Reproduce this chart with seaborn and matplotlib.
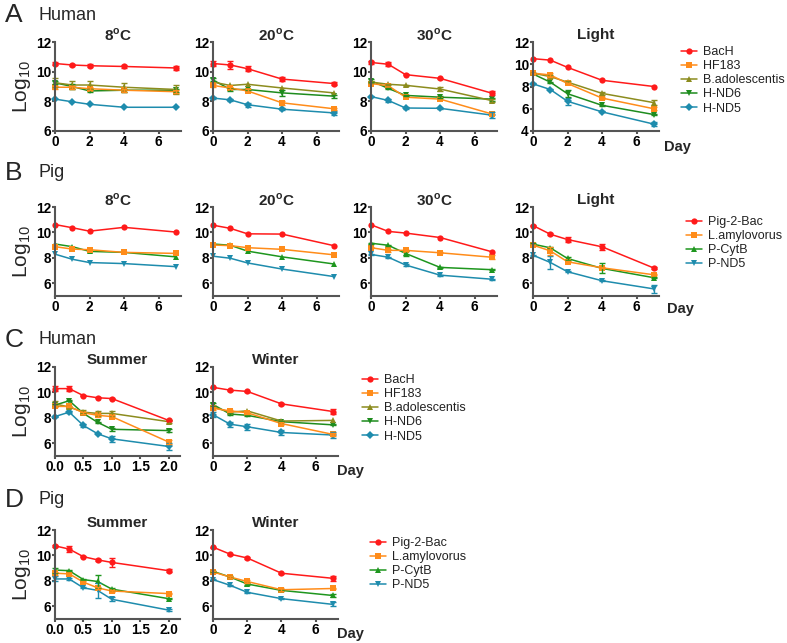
import numpy as np
import pandas as pd
import matplotlib
matplotlib.use('Agg')
import matplotlib.pyplot as plt
from matplotlib.lines import Line2D
import seaborn as sns

# ---- data (log10 copies) ----
DAYS = [0, 1, 2, 4, 7]
SEASON_DAYS = [0, 0.25, 0.5, 0.75, 1.0, 2.0]
HUMAN = ['BacH', 'HF183', 'B.adolescentis', 'H-ND6', 'H-ND5']
PIG = ['Pig-2-Bac', 'L.amylovorus', 'P-CytB', 'P-ND5']

# A - human, storage conditions
a_8c = {'BacH': [10.55, 10.45, 10.4, 10.35, 10.25],
        'HF183': [8.95, 8.95, 8.85, 8.75, 8.65],
        'B.adolescentis': [9.25, 9.1, 9.1, 8.95, 8.8],
        'H-ND6': [9.25, 9.0, 8.7, 8.75, 8.75],
        'H-ND5': [8.15, 7.97, 7.8, 7.6, 7.6]}
a_8c_sd = {'BacH': [0.12, 0.05, 0.1, 0.1, 0.15],
           'HF183': [0.1, 0.1, 0.1, 0.1, 0.1],
           'B.adolescentis': [0.3, 0.25, 0.3, 0.3, 0.3],
           'H-ND6': [0.1, 0.15, 0.1, 0.1, 0.1]}

a_20c = {'BacH': [10.55, 10.45, 10.2, 9.5, 9.2],
         'HF183': [9.07, 8.9, 8.7, 7.9, 7.5],
         'B.adolescentis': [9.3, 9.07, 9.15, 8.9, 8.57],
         'H-ND6': [9.44, 8.8, 8.8, 8.57, 8.35],
         'H-ND5': [8.22, 8.1, 7.77, 7.47, 7.22]}
a_20c_sd = {'BacH': [0.15, 0.3, 0.15, 0.15, 0.08],
            'HF183': [0.1, 0.05, 0.1, 0.15, 0.08],
            'H-ND6': [0.1, 0.1, 0.05, 0.2, 0.1],
            'H-ND5': [0.05, 0.05, 0.15, 0.05, 0.15]}

a_30c = {'BacH': [10.62, 10.5, 9.8, 9.55, 8.55],
         'HF183': [9.2, 9.05, 8.28, 8.15, 7.15],
         'B.adolescentis': [9.3, 9.15, 9.08, 8.83, 8.05],
         'H-ND6': [9.38, 8.87, 8.4, 8.28, 8.15],
         'H-ND5': [8.32, 8.06, 7.55, 7.53, 7.07]}
a_30c_sd = {'BacH': [0.1, 0.15, 0.05, 0.05, 0.15],
            'B.adolescentis': [0.05, 0.05, 0.05, 0.12, 0.1],
            'H-ND6': [0.1, 0.05, 0.05, 0.05, 0.1],
            'H-ND5': [0.05, 0.1, 0.1, 0.05, 0.2]}

a_light = {'BacH': [10.5, 10.37, 9.72, 8.56, 8.0],
           'HF183': [9.2, 9.04, 8.27, 6.96, 6.0],
           'B.adolescentis': [9.2, 8.89, 8.39, 7.38, 6.55],
           'H-ND6': [9.13, 8.39, 7.35, 6.31, 5.48],
           'H-ND5': [8.24, 7.73, 6.67, 5.72, 4.62]}
a_light_sd = {'B.adolescentis': [0.05, 0.1, 0.08, 0.1, 0.2],
              'HF183': [0.05, 0.15, 0.05, 0.1, 0.15],
              'H-ND6': [0.05, 0.05, 0.3, 0.05, 0.05],
              'H-ND5': [0.05, 0.05, 0.3, 0.05, 0.15]}

# B - pig, storage conditions
b_8c = {'Pig-2-Bac': [10.62, 10.37, 10.1, 10.4, 10.03],
        'L.amylovorus': [8.88, 8.69, 8.64, 8.43, 8.35],
        'P-CytB': [9.09, 8.88, 8.51, 8.43, 8.08],
        'P-ND5': [8.29, 7.89, 7.63, 7.55, 7.31]}
b_8c_sd = {}

b_20c = {'Pig-2-Bac': [10.57, 10.32, 9.89, 9.87, 8.96],
         'L.amylovorus': [9.01, 8.96, 8.8, 8.67, 8.24],
         'P-CytB': [9.09, 8.99, 8.53, 8.08, 7.52],
         'P-ND5': [8.13, 7.97, 7.6, 7.12, 6.53]}
b_20c_sd = {}

b_30c = {'Pig-2-Bac': [10.6, 10.08, 9.95, 9.6, 8.48],
         'L.amylovorus': [8.8, 8.59, 8.59, 8.4, 8.05],
         'P-CytB': [9.15, 8.99, 8.35, 7.25, 7.07],
         'P-ND5': [8.27, 8.05, 7.44, 6.64, 6.32]}
b_30c_sd = {'L.amylovorus': [0.05, 0.1, 0.05, 0.05, 0.15],
            'P-CytB': [0.05, 0.05, 0.2, 0.05, 0.05],
            'P-ND5': [0.05, 0.05, 0.1, 0.05, 0.05]}

b_light = {'Pig-2-Bac': [10.54, 9.86, 9.44, 8.87, 7.2],
           'L.amylovorus': [9.0, 8.55, 7.69, 7.22, 6.67],
           'P-CytB': [9.08, 8.79, 7.95, 7.17, 6.44],
           'P-ND5': [8.21, 7.64, 6.91, 6.2, 5.56]}
b_light_sd = {'Pig-2-Bac': [0.05, 0.1, 0.2, 0.25, 0.05],
              'L.amylovorus': [0.05, 0.3, 0.05, 0.05, 0.05],
              'P-CytB': [0.05, 0.05, 0.1, 0.4, 0.05],
              'P-ND5': [0.05, 0.5, 0.05, 0.05, 0.3]}

# C - human, seasons
c_summer = {'BacH': [10.3, 10.3, 9.75, 9.58, 9.52, 7.8],
            'HF183': [8.9, 8.9, 8.4, 8.2, 8.1, 6.1],
            'B.adolescentis': [9.1, 8.85, 8.45, 8.35, 8.35, 7.7],
            'H-ND6': [9.0, 9.35, 8.35, 7.65, 7.1, 7.0],
            'H-ND5': [8.1, 8.45, 7.4, 6.75, 6.35, 5.75]}
c_summer_sd = {'BacH': [0.2, 0.2, 0.05, 0.05, 0.05, 0.05],
               'HF183': [0.05, 0.05, 0.1, 0.1, 0.1, 0.15],
               'B.adolescentis': [0.2, 0.05, 0.15, 0.2, 0.2, 0.1],
               'H-ND6': [0.1, 0.05, 0.05, 0.05, 0.1, 0.15],
               'H-ND5': [0.05, 0.1, 0.1, 0.05, 0.25, 0.25]}

c_winter = {'BacH': [10.4, 10.18, 10.08, 9.1, 8.5],
            'HF183': [8.75, 8.55, 8.4, 7.55, 6.7],
            'B.adolescentis': [8.85, 8.45, 8.55, 7.75, 7.8],
            'H-ND6': [9.05, 8.3, 8.2, 7.7, 7.45],
            'H-ND5': [8.25, 7.5, 7.3, 6.85, 6.65]}
c_winter_sd = {'BacH': [0.05, 0.05, 0.05, 0.1, 0.2],
               'HF183': [0.1, 0.1, 0.1, 0.1, 0.1],
               'H-ND6': [0.1, 0.05, 0.05, 0.05, 0.05],
               'H-ND5': [0.2, 0.2, 0.25, 0.2, 0.25]}

# D - pig, seasons
d_summer = {'Pig-2-Bac': [10.75, 10.5, 9.9, 9.65, 9.45, 8.8],
            'L.amylovorus': [8.6, 8.55, 7.9, 7.45, 7.2, 7.0],
            'P-CytB': [8.85, 8.8, 8.1, 7.95, 7.35, 6.6],
            'P-ND5': [8.15, 8.15, 7.45, 7.25, 6.55, 5.7]}
d_summer_sd = {'Pig-2-Bac': [0.05, 0.25, 0.05, 0.05, 0.35, 0.12],
               'L.amylovorus': [0.1, 0.05, 0.05, 0.1, 0.1, 0.05],
               'P-CytB': [0.2, 0.05, 0.05, 0.5, 0.1, 0.05],
               'P-ND5': [0.2, 0.05, 0.05, 0.6, 0.15, 0.1]}

d_winter = {'Pig-2-Bac': [10.65, 10.1, 9.8, 8.6, 8.2],
            'L.amylovorus': [8.7, 8.3, 7.95, 7.3, 7.4],
            'P-CytB': [8.75, 8.3, 7.75, 7.25, 6.85],
            'P-ND5': [8.1, 7.65, 7.1, 6.6, 6.15]}
d_winter_sd = {'Pig-2-Bac': [0.05, 0.05, 0.05, 0.05, 0.2],
               'L.amylovorus': [0.05, 0.05, 0.1, 0.1, 0.05],
               'P-CytB': [0.05, 0.05, 0.05, 0.05, 0.15],
               'P-ND5': [0.05, 0.05, 0.05, 0.05, 0.15]}

COLORS = {'BacH': '#ff1a1a', 'HF183': '#ff8c1a', 'B.adolescentis': '#8c8c1e',
          'H-ND6': '#1e8c1e', 'H-ND5': '#1e8cad',
          'Pig-2-Bac': '#ff1a1a', 'L.amylovorus': '#ff8c1a',
          'P-CytB': '#1e961e', 'P-ND5': '#1e8cad'}
MARKERS = {'BacH': 'o', 'HF183': 's', 'B.adolescentis': '^', 'H-ND6': 'v', 'H-ND5': 'D',
           'Pig-2-Bac': 'o', 'L.amylovorus': 's', 'P-CytB': '^', 'P-ND5': 'v'}

sns.set_style('ticks')
plt.rcParams['font.family'] = ['Liberation Sans', 'DejaVu Sans']
plt.rcParams['mathtext.fontset'] = 'custom'
plt.rcParams['mathtext.rm'] = 'Liberation Sans'
plt.rcParams['mathtext.bf'] = 'Liberation Sans:bold'

AX_COL = '#555555'
W, H = 787, 643
fig = plt.figure(figsize=(W / 100, H / 100), dpi=100)


def panel(left, top, bottom, width, data, sd, targets, x, title, ylim, season=False):
    ax = fig.add_axes([left / W, 1 - bottom / H, width / W, (bottom - top) / H])
    df = pd.DataFrame([(t, xi, v) for t in targets for xi, v in zip(x, data[t])],
                      columns=['target', 'day', 'log'])
    sns.lineplot(data=df, x='day', y='log', hue='target', style='target',
                 hue_order=targets[::-1], style_order=targets[::-1],
                 palette=COLORS, markers=MARKERS, dashes=False, legend=False,
                 markersize=4.5, markeredgewidth=0, linewidth=1.1,
                 errorbar=None, clip_on=False, ax=ax)
    for t in targets[::-1]:
        if t in sd:
            ax.errorbar(x, data[t], yerr=sd[t], fmt='none', ecolor=COLORS[t],
                        elinewidth=1.0, capsize=2.5, capthick=1.0, clip_on=False)
    ax.set_ylim(*ylim)
    ax.set_yticks(np.arange(12, ylim[0] - 0.1, -2)[::-1])
    if season:
        ax.set_xlim(0, 2.2)
        ax.set_xticks([0, 0.5, 1.0, 1.5, 2.0])
        ax.set_xticklabels(['0.0', '0.5', '1.0', '1.5', '2.0'])
    else:
        ax.set_xlim(0, 7.3)
        ax.set_xticks([0, 2, 4, 6])
    ax.set_xlabel('')
    ax.set_ylabel('')
    sns.despine(ax=ax)
    for s in ['left', 'bottom']:
        ax.spines[s].set_color(AX_COL)
        ax.spines[s].set_linewidth(1.5)
    ax.tick_params(colors=AX_COL, width=1.5, length=2.5, pad=0.5, labelsize=9.8)
    for lab in ax.get_xticklabels() + ax.get_yticklabels():
        lab.set_fontweight('bold')
        lab.set_color('black')
    fig.text((left + width / 2) / W, 1 - (top - 7) / H, title, ha='center', va='center',
             fontsize=11, fontweight='bold')
    return ax


def legend(targets, x, y):
    handles = [Line2D([], [], color=COLORS[t], marker=MARKERS[t], markersize=4.5,
                      markeredgewidth=0, linewidth=1.1) for t in targets]
    leg = fig.legend(handles, targets, loc='upper left', bbox_to_anchor=(x / W, 1 - y / H),
                     frameon=False, fontsize=9, handlelength=1.3, handletextpad=0.45,
                     labelspacing=0.17, borderpad=0, borderaxespad=0)
    for txt in leg.get_texts():
        txt.set_color('#222222')


def row_labels(letter, name, y, top, bottom):
    fig.text(5 / W, 1 - y / H, letter, fontsize=19, ha='left', va='center')
    fig.text(38 / W, 1 - y / H, name, fontsize=13, ha='left', va='center')
    fig.text(22 / W, 1 - (top + bottom) / 2 / H, r'Log$_{10}$', fontsize=15,
             rotation=90, ha='center', va='center')


def day_label(x, y):
    fig.text(x / W, 1 - y / H, 'Day', fontsize=10.5, fontweight='bold',
             ha='left', va='center')


cols = [55, 213, 371, 533]
deg = r'$^{\mathbf{o}}$C'

# row A
row_labels('A', 'Human', 15, 42, 131)
panel(cols[0], 42, 131, 126, a_8c, a_8c_sd, HUMAN, DAYS, '8' + deg, (6, 12))
panel(cols[1], 42, 131, 126, a_20c, a_20c_sd, HUMAN, DAYS, '20' + deg, (6, 12))
panel(cols[2], 42, 131, 126, a_30c, a_30c_sd, HUMAN, DAYS, '30' + deg, (6, 12))
panel(cols[3], 42, 131, 126, a_light, a_light_sd, HUMAN, DAYS, 'Light', (4, 12))
day_label(664, 147)
legend(HUMAN, 681, 46)

# row B
row_labels('B', 'Pig', 173, 207, 296)
panel(cols[0], 207, 296, 126, b_8c, b_8c_sd, PIG, DAYS, '8' + deg, (5, 12))
panel(cols[1], 207, 296, 126, b_20c, b_20c_sd, PIG, DAYS, '20' + deg, (5, 12))
panel(cols[2], 207, 296, 126, b_30c, b_30c_sd, PIG, DAYS, '30' + deg, (5, 12))
panel(cols[3], 207, 296, 126, b_light, b_light_sd, PIG, DAYS, 'Light', (5, 12))
day_label(667, 309)
legend(PIG, 686, 216)

# row C
row_labels('C', 'Human', 340, 367, 456)
panel(cols[0], 367, 456, 125, c_summer, c_summer_sd, HUMAN, SEASON_DAYS, 'Summer', (5, 12), season=True)
panel(cols[1], 367, 456, 125, c_winter, c_winter_sd, HUMAN, DAYS, 'Winter', (5, 12))
day_label(337, 471)
legend(HUMAN, 362, 374)

# row D
row_labels('D', 'Pig', 500, 530, 619)
panel(cols[0], 530, 619, 125, d_summer, d_summer_sd, PIG, SEASON_DAYS, 'Summer', (5, 12), season=True)
panel(cols[1], 530, 619, 125, d_winter, d_winter_sd, PIG, DAYS, 'Winter', (5, 12))
day_label(337, 634)
legend(PIG, 370, 537)

fig.savefig('out.png', dpi=100)
